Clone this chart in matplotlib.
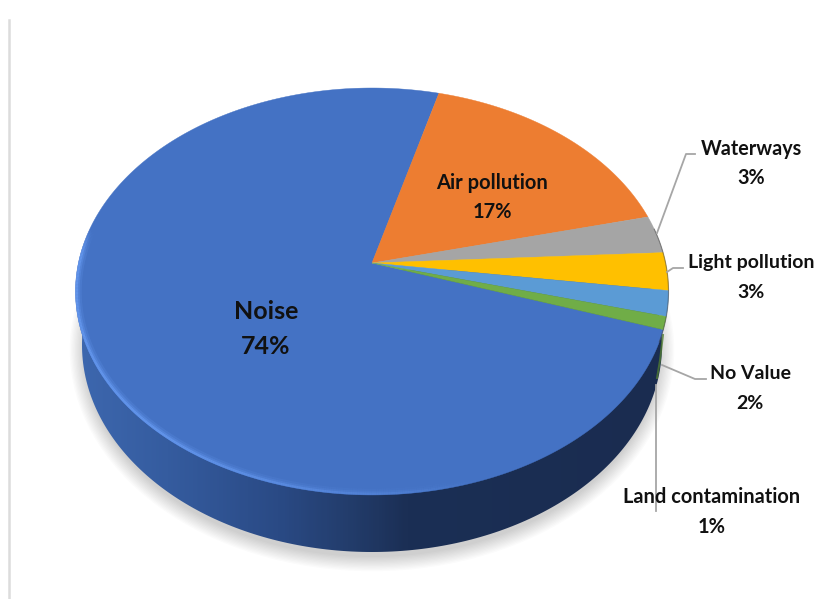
import numpy as np
import matplotlib
matplotlib.use("Agg")
import matplotlib.pyplot as plt
from matplotlib.patches import Polygon, Ellipse
from matplotlib.collections import LineCollection
from matplotlib.colors import LinearSegmentedColormap, to_rgb

categories = ["Noise", "Air pollution", "Waterways", "Light pollution", "No Value", "Land contamination"]
values = [74, 17, 3, 3, 2, 1]
colors = ["#4472C4", "#ED7D31", "#A5A5A5", "#FFC000", "#5B9BD5", "#70AD47"]

# perspective of the tilted disc, in pixels
apex_x, apex_y = 372, 263
R, S, p = 293.6, 199.5, 0.14
start_angle = -18.6  # noise starts under the green slice, runs clockwise

def project(deg):
    a = np.radians(deg)
    w = 1 + p * np.sin(a)
    return apex_x + R * np.cos(a) / w, apex_y - S * np.sin(a) / w

plt.rcParams['font.family'] = ['Lato', 'DejaVu Sans']
fig = plt.figure(figsize=(8.15, 5.99), dpi=100)
ax = fig.add_axes([0, 0, 1, 1])
ax.set_xlim(0, 815)
ax.set_ylim(599, 0)
ax.axis('off')

# left border of the picture
ax.plot([9, 9], [20, 599], color="#dcdcdc", lw=1.8, zorder=1)

# soft shadow under the pie
for i in range(12):
    ax.add_patch(Ellipse((372, 350), 2 * (288 + i * 1.3), 2 * (207 + i * 1.3),
                         fc="#000000", ec="none", alpha=0.014, zorder=2))

# side wall, horizontal shading clipped to the wall outline
t = np.radians(np.linspace(0, 360, 361))
wall = Polygon(np.column_stack([372 + 290 * np.cos(t), 345 + 207 * np.sin(t)]), closed=True,
               transform=ax.transData, fc="none", ec="none")
ax.add_patch(wall)
side_cmap = LinearSegmentedColormap.from_list("side", [
    (0.0, "#3D67AE"), (0.15, "#355C9F"), (0.34, "#2A4A85"), (0.46, "#233D6C"),
    (0.56, "#1B2F55"), (1.0, "#1A2C50")])
im = ax.imshow(np.linspace(0, 1, 300)[None, :], cmap=side_cmap, extent=[78, 665, 560, 270],
               aspect='auto', zorder=3)
im.set_clip_path(wall)
ax.set_xlim(0, 815)
ax.set_ylim(599, 0)

# green slice shows as a sliver on the wall
ax.plot([663, 660, 657], [335, 360, 378], color="#4F7A32", lw=1.4, alpha=0.8, zorder=3.5)

# top face slices
ang = start_angle
for name, v, c in zip(categories, values, colors):
    sweep = v * 3.6
    arc = np.linspace(ang, ang - sweep, max(int(sweep * 2), 4))
    x, y = project(arc)
    ax.add_patch(Polygon(np.column_stack([np.r_[apex_x, x], np.r_[apex_y, y]]), closed=True,
                         fc=c, ec=c, lw=0.3, zorder=4))
    ang -= sweep

# light rim on the front edge, kept inside the face
fx, fy = project(np.linspace(0, 360, 361))
face = Polygon(np.column_stack([fx, fy]), closed=True, transform=ax.transData, fc="none", ec="none")
ax.add_patch(face)
rim = np.linspace(-70, -190, 300)
rx, ry = project(rim)
pts = np.column_stack([rx, ry]).reshape(-1, 1, 2)
segs = np.concatenate([pts[:-1], pts[1:]], axis=1)
rim_col = np.zeros((len(segs), 4))
rim_col[:, :3] = to_rgb("#6497EE")
rim_col[:, 3] = np.clip((np.abs(rim[:-1]) - 70) / 60, 0, 1) * np.clip((190 - np.abs(rim[:-1])) / 8, 0, 1) * 0.85
for lw, scale in [(9, 0.25), (6, 0.45), (3.5, 1.0)]:
    c = rim_col.copy()
    c[:, 3] *= scale
    lc = LineCollection(segs, colors=c, lw=lw, zorder=5)
    ax.add_collection(lc)
    lc.set_clip_path(face)

# thin dark line down the right rim
ex, ey = project(np.linspace(10, -22, 60))
ax.plot(ex, ey, color="#3a3a3a", lw=0.8, alpha=0.5, zorder=5)

# leader lines
leader = "#a6a6a6"
ax.plot([657, 686, 695], [233, 154, 154], color=leader, lw=1.3, zorder=6)
ax.plot([667, 673, 683], [272, 268, 268], color=leader, lw=1.3, zorder=6)
ax.plot([662, 695, 706], [365, 379, 379], color=leader, lw=1.3, zorder=6)
ax.plot([656, 656], [385, 511], color=leader, lw=1.3, zorder=6)

# data labels: centre x, baseline of name, baseline of percent, size
label_pos = [(266, 319, 354, 18), (492, 189, 218, 14.5), (751, 155, 184, 14.2),
             (751, 268, 298, 14), (750, 379, 409, 14), (712, 503, 533, 14.4)]
for name, v, (lx, y1, y2, fs) in zip(categories, values, label_pos):
    ax.text(lx, y1, name, ha='center', va='baseline', fontsize=fs, fontweight='bold',
            color="#111111", zorder=7)
    ax.text(lx, y2, "%d%%" % v, ha='center', va='baseline', fontsize=fs, fontweight='bold',
            color="#111111", zorder=7)

fig.savefig('out.png', dpi=100)
